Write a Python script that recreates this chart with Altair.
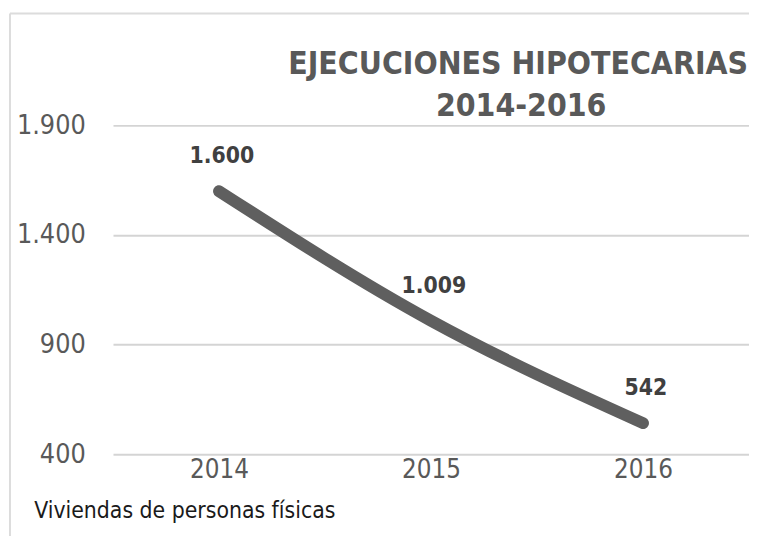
import altair as alt
import pandas as pd

years = ["2014", "2015", "2016"]
values = [1600, 1009, 542]
y_ticks = [400, 900, 1400, 1900]
title_lines = ["EJECUCIONES HIPOTECARIAS", "2014-2016"]

df = pd.DataFrame({"year": years, "value": values})
one = pd.DataFrame({"k": [0]})

FONT = "DejaVu Sans Condensed, Liberation Sans, sans-serif"

x_enc = alt.X(
    "year:N",
    sort=years,
    scale=alt.Scale(type="point", padding=0.5),
    axis=alt.Axis(
        title="Viviendas de personas físicas",
        titleAnchor="start",
        titleAlign="left",
        titleX=-80,
        titleY=46,
        titleFont=FONT,
        titleFontSize=23,
        titleFontWeight="normal",
        titleColor="#1a1a1a",
        labelFont=FONT,
        labelFontSize=26,
        labelColor="#595959",
        labelPadding=2,
        labelAngle=0,
        domain=False,
        ticks=False,
        grid=False,
    ),
)

y_enc = alt.Y(
    "value:Q",
    scale=alt.Scale(domain=[400, 1900], nice=False, zero=False),
    axis=alt.Axis(
        title=None,
        values=y_ticks,
        labelExpr="replace(format(datum.value, ','), ',', '.')",
        labelFont=FONT,
        labelFontSize=27,
        labelColor="#595959",
        labelPadding=28,
        domain=False,
        ticks=False,
        grid=True,
        gridColor="#d4d4d4",
        gridWidth=2,
    ),
)

border_left = alt.Chart(one).mark_rule(
    color="#dcdcdc", strokeWidth=2, clip=False
).encode(x=alt.value(-104), y=alt.value(-113), y2=alt.value(460))
border_top = alt.Chart(one).mark_rule(
    color="#dcdcdc", strokeWidth=2, clip=False
).encode(x=alt.value(-104), x2=alt.value(700), y=alt.value(-113))

title_style = dict(font=FONT, fontSize=32, fontWeight="bold", color="#595959",
                   align="center", baseline="middle")
title1 = alt.Chart(one).mark_text(text=title_lines[0], **title_style).encode(
    x=alt.value(409), y=alt.value(-62)
)
title2 = alt.Chart(one).mark_text(text=title_lines[1], **title_style).encode(
    x=alt.value(412), y=alt.value(-19)
)

line = alt.Chart(df).mark_line(
    color="#5f5f5f", strokeWidth=12, strokeCap="round", interpolate="monotone"
).encode(x=x_enc, y=y_enc)

labels = alt.Chart(df).transform_calculate(
    lab="replace(format(datum.value, ','), ',', '.')"
).mark_text(
    font=FONT, fontSize=23, fontWeight="bold", color="#404040", dy=-35, dx=3
).encode(x=alt.X("year:N", sort=years), y="value:Q", text="lab:N")

chart = alt.layer(border_left, border_top, line, labels, title1, title2).properties(
    width=642,
    height=332,
    autosize=alt.AutoSizeParams(type="none"),
    padding={"left": 106, "top": 116, "right": 0, "bottom": 80},
).configure_view(stroke=None)

chart.save("out.html", embed_options={"renderer": "svg", "actions": False})
